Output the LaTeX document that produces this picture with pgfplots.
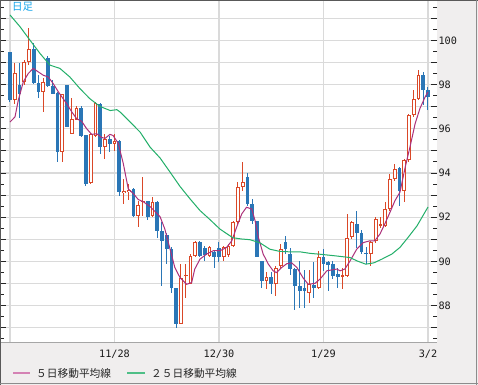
\documentclass[border=0pt]{standalone}
\usepackage{pgfplots}
\usepackage{pgfplotstable}
\pgfplotsset{compat=1.18}
\usepackage{fontspec}
\setmainfont{DejaVu Sans}
\newfontfamily\cjk{Noto Sans CJK JP}
\newfontfamily\tickfont{DejaVu Sans Mono}
\definecolor{bg}{RGB}{240,238,238}
\definecolor{upcol}{RGB}{218,72,40}
\definecolor{dncol}{RGB}{42,118,182}
\definecolor{mafive}{RGB}{172,48,122}
\definecolor{malegend}{RGB}{212,130,180}
\definecolor{matwfive}{RGB}{35,175,105}
\definecolor{gridc}{RGB}{218,218,218}
\definecolor{lbl}{RGB}{20,165,235}

\pgfplotstableread{
i o h l c
1 97.29 98.99 97.14 98.54
3 98.13 99.1 98.0 99.04
4 99.04 100.55 98.9 99.64
7 97.67 98.3 96.76 98.13
11 94.95 97.6 94.5 97.6
13 95.78 97.4 95.78 96.46
14 96.41 97.02 96.38 96.96
17 93.54 95.8 93.5 95.78
18 95.7 97.2 95.63 97.17
20 95.17 95.78 94.64 95.55
22 95.32 95.78 95.0 95.45
24 93.1 93.73 92.6 93.2
25 93.15 93.5 92.8 93.25
27 92.07 92.75 91.54 92.57
28 92.67 93.81 92.07 92.75
30 92.07 92.9 91.99 92.67
36 87.14 89.87 87.14 89.26
37 89.33 89.87 88.36 89.4
38 88.99 90.33 88.96 90.25
39 90.25 90.9 90.2 90.86
42 90.25 90.7 90.18 90.66
45 90.18 90.7 90.02 90.66
46 90.3 90.8 90.2 90.7
47 90.7 91.84 90.63 91.77
48 91.77 93.58 91.69 93.36
49 93.36 94.49 93.2 93.58
54 89.1 89.5 88.74 89.3
56 88.96 89.8 88.43 89.72
57 89.8 90.78 89.72 90.55
63 88.58 89.6 88.1 88.96
65 88.81 90.48 88.73 90.18
70 89.3 89.72 88.73 89.37
71 89.33 92.14 89.3 91.08
72 91.08 91.84 91.0 91.76
76 90.33 90.93 89.8 90.86
77 90.93 92.0 90.85 91.93
78 91.6 92.0 91.5 91.68
79 91.61 92.67 91.54 92.37
80 92.37 93.96 92.3 93.73
81 93.73 94.42 93.66 94.19
83 93.2 94.65 92.67 94.57
84 94.57 96.69 94.5 96.61
85 96.61 97.75 96.54 97.37
86 97.37 98.66 97.3 98.43
}\upTable

\pgfplotstableread{
i o h l c
0 99.49 99.5 97.2 97.29
2 98.0 98.99 96.5 97.6
5 99.64 99.87 98.05 98.08
6 98.08 98.43 97.4 97.67
8 99.2 99.3 97.9 97.93
9 97.93 98.2 97.56 97.6
10 97.63 97.67 94.5 94.95
12 97.98 98.0 96.08 96.08
15 96.96 97.02 95.63 95.7
16 95.7 95.7 93.43 93.5
19 97.14 97.17 94.87 95.17
21 95.55 95.7 94.94 95.32
23 95.45 95.48 92.98 93.13
26 93.28 93.3 92.0 92.07
29 92.75 92.75 91.87 91.99
31 92.67 92.75 91.08 91.36
32 91.36 91.76 88.9 90.93
33 91.2 91.3 89.87 90.55
34 90.55 90.63 88.58 88.81
35 88.81 88.81 86.99 87.14
40 90.86 90.9 90.2 90.25
41 90.6 90.7 90.0 90.3
43 90.4 90.5 89.7 90.2
44 90.6 90.86 89.95 90.18
50 93.8 94.0 92.52 92.6
51 92.6 92.83 91.69 91.84
52 91.84 91.84 90.18 90.18
53 90.02 90.02 88.81 89.1
55 89.3 89.5 88.5 88.96
58 90.86 91.16 90.33 90.55
59 90.33 90.6 89.4 89.64
60 89.64 89.72 87.8 88.89
61 88.89 90.0 87.9 88.66
62 88.8 89.6 87.9 88.66
64 88.93 89.95 88.36 88.81
66 90.18 90.55 89.57 89.9
67 89.95 90.02 88.66 89.84
68 89.87 90.02 89.19 89.34
69 89.42 89.72 88.8 89.3
73 91.69 92.3 90.6 91.3
74 91.3 91.4 90.33 90.4
75 90.4 90.63 89.87 90.33
82 94.24 94.27 92.52 93.2
87 98.43 98.58 97.07 97.75
88 97.75 97.9 96.84 97.45
}\downTable

\pgfplotstableread{
i v
0 96.31
1.05 96.54
1.75 97.3
2.8 98.13
3.85 98.51
4.9 98.74
5.96 98.58
7.0 98.43
8.06 98.35
9.1 98.05
10.2 97.67
11.9 97.15
13 96.77
14.04 96.46
15.1 96.34
16.1 96.02
17.2 95.75
18.25 95.78
19.3 95.61
20 95.57
21.05 95.75
21.7 95.7
22.8 95.34
23.85 94.43
24.9 93.28
25.96 93.07
27 92.8
28.06 92.7
29.5 92.48
31.6 92.02
32.6 91.46
33.7 90.55
34.7 89.72
35.8 89.26
37.2 88.96
38.25 89.04
38.9 89.65
40 90.1
41.4 90.33
42.8 90.48
44.2 90.48
45.6 90.63
46.7 90.93
47.7 91.54
48.8 92.15
49.8 92.45
50.9 92.37
51.6 91.84
52.3 91.08
53.3 90.33
54.4 89.87
55.4 89.57
56.1 89.49
57.2 89.72
58.25 89.89
59.3 89.93
60.4 89.72
61.7 89.25
62.8 88.96
64.2 89.0
65.3 89.2
66.7 89.57
68.8 89.65
69.5 89.57
70.5 89.65
71.6 90.02
73 90.55
74.4 90.85
75.8 90.93
76.8 90.93
77.9 91.24
78.9 91.69
80 92.22
81.05 92.75
82.1 93.13
83.2 94.26
84.2 95.17
85.3 96.24
86.3 96.92
87.4 97.45
88 97.67
}\maFive

\pgfplotstableread{
i v
0 101.16
2.1 100.63
4.2 100.02
6.3 99.42
8.4 98.89
9.5 98.81
10.5 98.74
12.6 98.35
14.7 97.83
16.8 97.37
18.9 97.02
21.1 96.83
22.5 96.87
23.2 96.76
25.3 96.31
27.4 95.85
29.5 95.17
31.6 94.68
33.7 94.04
35.8 93.39
37.9 92.83
40 92.3
42.1 91.89
44.2 91.46
46.9 91.07
48.8 91.01
50.5 90.98
52.6 90.84
54.7 90.55
56.8 90.45
58.9 90.43
61.05 90.43
63.2 90.36
65.3 90.32
68.4 90.25
71.6 90.17
73.05 90.02
74.9 89.87
76.6 89.93
78.3 90.1
80.4 90.33
82.1 90.63
83.8 91.08
85.7 91.61
88 92.46
}\maTwentyFive

\begin{document}
\begin{tikzpicture}
\useasboundingbox (0,0) rectangle (478bp,385bp);
\fill[bg] (0,0) rectangle (478bp,385bp);
\fill[white] (0,42bp) rectangle (437bp,383.5bp);
\begin{axis}[
  at={(0bp,42bp)}, anchor=south west, scale only axis,
  width=437bp, height=341.5bp,
  xmin=-2.105, xmax=89.9, ymin=86.3, ymax=101.77,
  axis line style={draw=none},
  xtick={0,22,44,66,88}, xticklabels={,11/28,12/30,1/29,3/2},
  xmajorgrids, ymajorgrids,
  grid style={gridc, line width=1.1bp},
  xtick style={draw=none},
  ytick={87,...,101}, yticklabels={,88,,90,,92,,94,,96,,98,,100,},
  minor ytick={86.5,87.5,...,101.5},
  ytick pos=both, yticklabel pos=right, tick align=inside,
  major tick length=6bp, minor tick length=4bp,
  ytick style={line width=1bp, black!85},
  tick label style={font=\tickfont\fontsize{10.2bp}{12bp}\selectfont, text=black!90},
  xticklabel style={yshift=-3bp},
  yticklabel style={xshift=-2bp},
  /pgf/number format/assume math mode=true,
]
% up candles
\addplot[forget plot, draw=none, mark=none, error bars/.cd, y dir=both, y explicit, error mark=none,
  error bar style={draw=upcol, line width=1bp}]
  table[x=i, y expr={(\thisrow{h}+\thisrow{l})/2}, y error expr={(\thisrow{h}-\thisrow{l})/2}] {\upTable};
\addplot[forget plot, draw=none, mark=none, error bars/.cd, y dir=both, y explicit, error mark=none,
  error bar style={draw=upcol, line width=3.6bp}]
  table[x=i, y expr={(\thisrow{o}+\thisrow{c})/2}, y error expr={max(abs(\thisrow{c}-\thisrow{o})/2,0.023)}] {\upTable};
\addplot[forget plot, draw=none, mark=none, error bars/.cd, y dir=both, y explicit, error mark=none,
  error bar style={draw=white, line width=1.6bp}]
  table[x=i, y expr={(\thisrow{o}+\thisrow{c})/2}, y error expr={max(abs(\thisrow{c}-\thisrow{o})/2-0.0453,0)}] {\upTable};
% down candles
\addplot[forget plot, draw=none, mark=none, error bars/.cd, y dir=both, y explicit, error mark=none,
  error bar style={draw=dncol, line width=1bp}]
  table[x=i, y expr={(\thisrow{h}+\thisrow{l})/2}, y error expr={(\thisrow{h}-\thisrow{l})/2}] {\downTable};
\addplot[forget plot, draw=none, mark=none, error bars/.cd, y dir=both, y explicit, error mark=none,
  error bar style={draw=dncol, line width=3.6bp}]
  table[x=i, y expr={(\thisrow{o}+\thisrow{c})/2}, y error expr={max(abs(\thisrow{c}-\thisrow{o})/2,0.023)}] {\downTable};
% moving averages
\addplot[mafive, line width=1bp, mark=none] table[x=i, y=v] {\maFive};
\addplot[matwfive, line width=1bp, mark=none] table[x=i, y=v] {\maTwentyFive};
\end{axis}
% frame
\draw[black!35, line width=1bp] (0,42bp) -- (437bp,42bp);
\draw[black!65, line width=1.2bp] (0,384.4bp) -- (478bp,384.4bp);
\draw[black!65, line width=1bp] (0.5bp,0) -- (0.5bp,385bp);
\draw[black!45, line width=1.5bp] (476.5bp,0) -- (476.5bp,385bp);
\draw[black!45, line width=1.5bp] (0,1.5bp) -- (478bp,1.5bp);
% label
\node[anchor=north west, inner sep=0pt, text=lbl, font=\cjk\fontsize{10.5bp}{11bp}\selectfont] at (12bp,382.8bp) {日足};
% legend
\draw[malegend, line width=1.3bp] (13bp,12bp) -- (30bp,12bp);
\node[anchor=west, inner sep=0pt, text=black!85, font=\cjk\fontsize{10.7bp}{12bp}\selectfont] at (36bp,12bp) {５日移動平均線};
\draw[matwfive!80, line width=1.3bp] (127bp,12bp) -- (145bp,12bp);
\node[anchor=west, inner sep=0pt, text=black!85, font=\cjk\fontsize{10.7bp}{12bp}\selectfont] at (151bp,12bp) {２５日移動平均線};
\end{tikzpicture}
\end{document}
